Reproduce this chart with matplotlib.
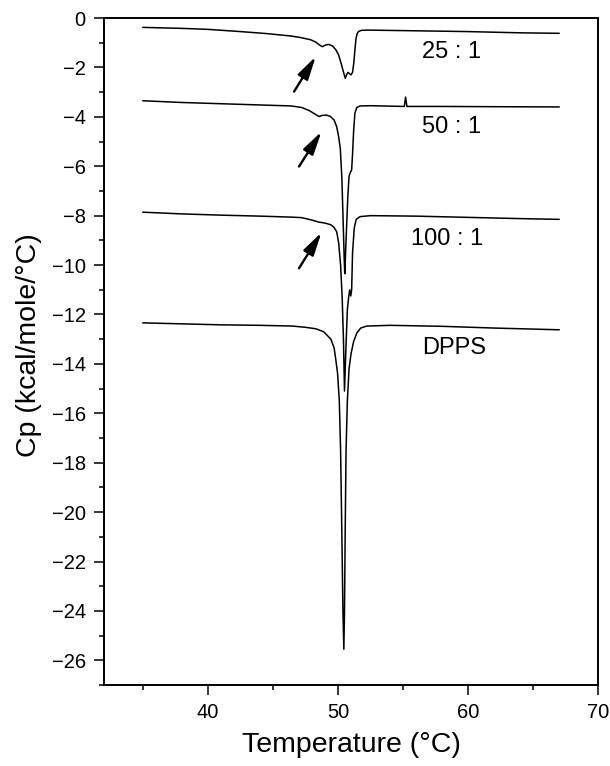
import matplotlib
matplotlib.use("Agg")
import matplotlib.pyplot as plt
from matplotlib.ticker import MultipleLocator

plt.rcParams['font.family'] = ['Liberation Sans', 'DejaVu Sans']

# DSC heat capacity traces (temperature in °C, Cp in kcal/mole/°C)
t_25 = [35.0, 38.0, 40.0, 42.5, 44.5, 46.4, 47.1, 47.9, 48.3, 48.6, 48.8, 49.05,
        49.3, 49.6, 49.85, 50.05, 50.25, 50.4, 50.56, 50.66, 50.76, 50.88, 51.0,
        51.12, 51.22, 51.3, 51.38, 51.48, 51.6, 51.8, 52.3, 55.0, 60.0, 64.0, 67.0]
cp_25 = [-0.38, -0.42, -0.46, -0.55, -0.63, -0.73, -0.79, -0.88, -0.98, -1.1, -1.16,
         -1.09, -1.07, -1.14, -1.3, -1.5, -1.85, -2.15, -2.44, -2.3, -2.2, -2.25,
         -2.3, -2.2, -1.8, -1.3, -0.85, -0.62, -0.54, -0.5, -0.49, -0.51, -0.55,
         -0.6, -0.62]

t_50 = [35.0, 38.0, 41.0, 44.0, 46.4, 47.2, 47.8, 48.2, 48.55, 48.8, 49.1, 49.4,
        49.7, 49.9, 50.05, 50.18, 50.3, 50.4, 50.47, 50.52, 50.62, 50.75, 50.85,
        50.95, 51.05, 51.12, 51.2, 51.3, 51.45, 51.7, 52.5, 55.1, 55.2, 55.3,
        58.0, 62.0, 67.0]
cp_50 = [-3.35, -3.42, -3.47, -3.52, -3.56, -3.62, -3.75, -3.88, -3.99, -3.94,
         -3.93, -3.98, -4.13, -4.4, -4.8, -5.3, -6.5, -8.3, -9.6, -10.35, -9.0,
         -7.3, -6.4, -6.25, -6.15, -5.5, -4.6, -3.85, -3.62, -3.56, -3.55, -3.58,
         -3.2, -3.58, -3.58, -3.59, -3.6]

t_100 = [35.0, 38.0, 41.0, 44.0, 46.4, 47.2, 48.0, 48.5, 49.0, 49.45, 49.7, 49.9,
         50.05, 50.2, 50.32, 50.42, 50.5, 50.6, 50.72, 50.82, 50.9, 50.98, 51.05,
         51.12, 51.25, 51.4, 51.7, 52.5, 56.0, 60.0, 64.0, 67.0]
cp_100 = [-7.86, -7.93, -7.98, -8.02, -8.06, -8.08, -8.18, -8.26, -8.3, -8.37,
          -8.48, -8.65, -9.1, -10.0, -11.3, -13.0, -15.1, -13.5, -11.8, -11.3,
          -11.0, -11.25, -11.0, -9.5, -8.5, -8.15, -8.04, -8.0, -8.02, -8.07,
          -8.12, -8.15]

t_dpps = [35.0, 38.0, 41.0, 44.0, 46.5, 47.5, 48.3, 48.9, 49.45, 49.7, 49.85,
          49.97, 50.1, 50.2, 50.3, 50.38, 50.45, 50.5, 50.55, 50.62, 50.72, 50.85,
          51.0, 51.2, 51.45, 51.75, 52.2, 54.0, 58.0, 62.0, 67.0]
cp_dpps = [-12.34, -12.38, -12.42, -12.44, -12.47, -12.52, -12.58, -12.7, -13.0,
           -13.35, -13.9, -14.4, -15.5, -17.5, -21.0, -24.0, -25.55, -24.0, -21.0,
           -17.5, -15.5, -14.2, -13.6, -13.1, -12.75, -12.55, -12.47, -12.44,
           -12.48, -12.55, -12.62]

trace_labels = ["25 : 1", "50 : 1", "100 : 1", "DPPS"]
label_pos = [(56.5, -1.38), (56.5, -4.4), (55.6, -8.95), (56.5, -13.36)]

# arrows marking the low-temperature shoulders (tail -> head)
arrow_tails = [(46.62, -2.98), (47.0, -6.01), (47.0, -10.13)]
arrow_heads = [(48.29, -1.56), (48.73, -4.6), (48.73, -8.68)]

fig = plt.figure(figsize=(6.1, 7.66), dpi=100)
ax = fig.add_axes([0.1705, 0.1057, 0.8098, 0.8708])

for t, cp in [(t_25, cp_25), (t_50, cp_50), (t_100, cp_100), (t_dpps, cp_dpps)]:
    ax.plot(t, cp, color='black', lw=1.1)

for txt, (x, y) in zip(trace_labels, label_pos):
    ax.text(x, y, txt, fontsize=17, ha='left', va='center')

for tail, head in zip(arrow_tails, arrow_heads):
    ax.annotate('', xy=head, xytext=tail,
                arrowprops=dict(arrowstyle='-|>,head_length=1.4,head_width=0.35',
                                color='black', lw=1.7, shrinkA=0, shrinkB=0))

ax.set_xlim(32, 70)
ax.set_ylim(-27, 0)
ax.xaxis.set_major_locator(MultipleLocator(10))
ax.xaxis.set_minor_locator(MultipleLocator(5))
ax.yaxis.set_major_locator(MultipleLocator(2))
ax.yaxis.set_minor_locator(MultipleLocator(1))
ax.set_xticks([40, 50, 60, 70])

ax.tick_params(which='major', direction='out', length=7.2, width=1.1,
               labelsize=14.5, pad=6)
ax.tick_params(which='minor', direction='out', length=3.6, width=1.1)
for s in ax.spines.values():
    s.set_linewidth(1.4)

ax.set_xlabel('Temperature (°C)', fontsize=20.5)
ax.set_ylabel('Cp (kcal/mole/°C)', fontsize=20.5)
ax.xaxis.set_label_coords(0.5, -0.07)
ax.yaxis.set_label_coords(-0.125, 0.51)

fig.savefig('out.png', dpi=100)
